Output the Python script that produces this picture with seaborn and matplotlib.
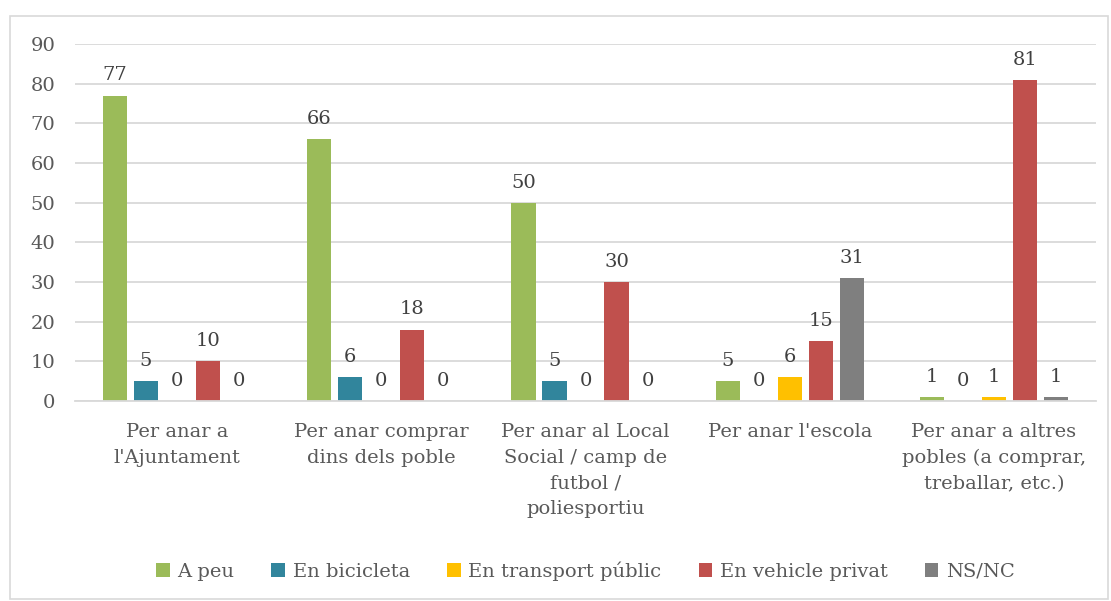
import seaborn as sns
import matplotlib.pyplot as plt
import pandas as pd
from matplotlib.patches import Rectangle

categories = ["Per anar a\nl'Ajuntament", "Per anar comprar\ndins dels poble",
              "Per anar al Local\nSocial / camp de\nfutbol /\npoliesportiu",
              "Per anar l'escola", "Per anar a altres\npobles (a comprar,\ntreballar, etc.)"]
series = ["A peu", "En bicicleta", "En transport públic", "En vehicle privat", "NS/NC"]
a_peu = [77, 66, 50, 5, 1]
bicicleta = [5, 6, 5, 0, 0]
transport = [0, 0, 0, 6, 1]
vehicle = [10, 18, 30, 15, 81]
nsnc = [0, 0, 0, 31, 1]
colors = ["#9BBB59", "#31859C", "#FFC000", "#C0504D", "#7F7F7F"]

rows = []
for name, vals in zip(series, [a_peu, bicicleta, transport, vehicle, nsnc]):
    for cat, v in zip(categories, vals):
        rows.append({"cat": cat, "serie": name, "val": v})
df = pd.DataFrame(rows)

sns.set_theme(style="white")
plt.rcParams['font.family'] = ['DejaVu Serif']
txt = "#595959"

fig = plt.figure(figsize=(11.11, 6.01), dpi=100)
ax = fig.add_axes([0.0675, 0.3328, 0.919, 0.594])
sns.barplot(data=df, x="cat", y="val", hue="serie", hue_order=series,
            palette=colors, width=0.76, gap=0.22, ax=ax, saturation=1,
            edgecolor="none")

for c in ax.containers:
    ax.bar_label(c, fmt="%d", padding=8, fontsize=14, color="#404040")

ax.set_ylim(0, 90)
ax.set_yticks(range(0, 91, 10))
ax.set_xlim(-0.5, 4.5)
ax.set_xticks(range(len(categories)))
ax.set_xticklabels(categories, linespacing=1.55)
ax.yaxis.grid(True, color="#D9D9D9", lw=1.3)
ax.set_axisbelow(True)
for s in ["left", "right", "top"]:
    ax.spines[s].set_visible(False)
ax.spines["bottom"].set_color("#D9D9D9")
ax.spines["bottom"].set_linewidth(1.3)
ax.tick_params(axis="both", length=0, labelsize=14, colors=txt)
ax.tick_params(axis="y", pad=14)
ax.tick_params(axis="x", pad=16)
ax.set_xlabel("")
ax.set_ylabel("")

sns.move_legend(ax, "center", bbox_to_anchor=(0.5, -0.476), ncol=5, frameon=False,
                title=None, fontsize=14, handlelength=0.7, handleheight=0.7,
                handletextpad=0.4, columnspacing=1.9)
for t in ax.get_legend().get_texts():
    t.set_color(txt)

fig.patches.append(Rectangle((0.009, 0.004), 0.988, 0.97, transform=fig.transFigure,
                             fill=False, edgecolor="#D9D9D9", lw=1.2))

fig.savefig("out.png", dpi=100)
